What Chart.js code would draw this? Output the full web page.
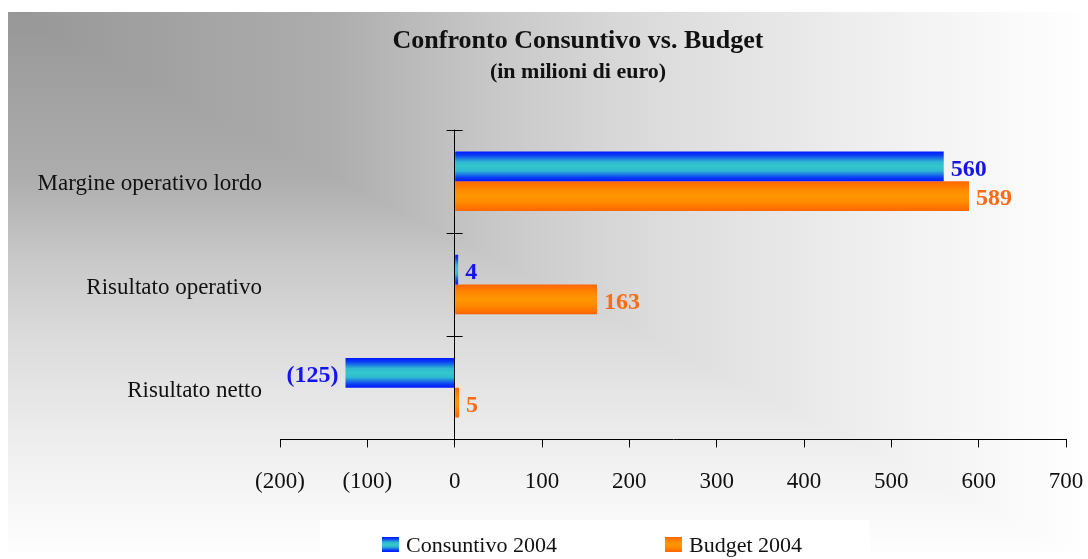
<!DOCTYPE html>
<html>
<head>
<meta charset="utf-8">
<script src="https://cdn.jsdelivr.net/npm/chart.js@4.4.0/dist/chart.umd.min.js"></script>
<style>
  html, body { margin: 0; padding: 0; background: #fff; }
  #wrap { width: 1088px; height: 559px; }
</style>
</head>
<body>
<div id="wrap"><canvas id="myChart"></canvas></div>
<script>
// dati (milioni di euro)
const categorie = ['Margine operativo lordo', 'Risultato operativo', 'Risultato netto'];
const serie = ['Consuntivo 2004', 'Budget 2004'];
const consuntivo = [560, 4, -125];
const budget = [589, 163, 5];
const asseMin = -200;
const asseMax = 700;
const assePasso = 100;

// colori sfumati delle barre (bordo -> centro -> bordo)
const sfumature = [
  [[0, '#0018ff'], [0.12, '#0a3cf5'], [0.35, '#2fb8d2'], [0.5, '#33c8cc'], [0.65, '#2fb8d2'], [0.88, '#0a3cf5'], [1, '#0018ff']],
  [[0, '#ff6600'], [0.3, '#ff8a00'], [0.5, '#ff9600'], [0.7, '#ff8a00'], [1, '#ff6600']]
];
const coloriEtichette = ['#1414f0', '#ff6a14'];

const fmt = v => v < 0 ? '(' + Math.abs(v) + ')' : String(v);
const FONT = "'Liberation Serif', 'Times New Roman', serif";

function gradV(ctx, top, bottom, stops) {
  const g = ctx.createLinearGradient(0, top, 0, bottom);
  stops.forEach(s => g.addColorStop(s[0], s[1]));
  return g;
}

// sfondo grigio sfumato "dall'angolo"
const sfondo = {
  id: 'sfondo',
  afterLayout(chart) {
    // titolo e sottotitolo centrati sulla zona etichette + grafico
    chart.boxes.forEach(b => {
      if (b.position === 'top' && b.options && b.options.text !== undefined) {
        b.left = 90;
        b.width = b.right - b.left;
      }
    });
  },
  beforeDraw(chart) {
    const c = chart.ctx, W = chart.width, H = chart.height;
    const x0 = 8, y0 = 12, w = W - x0, h = H - y0;
    const stops = [[0, '#979797'], [0.3, '#adadad'], [0.45, '#c8c8c8'], [0.6, '#dcdcdc'], [0.8, '#efefef'], [1, '#ffffff']];
    c.save();
    c.fillStyle = '#fff';
    c.fillRect(0, 0, W, H);
    let g = c.createLinearGradient(x0, 0, x0 + w, 0);
    stops.forEach(s => g.addColorStop(s[0], s[1]));
    c.fillStyle = g;
    c.fillRect(x0, y0, w, h);
    c.beginPath();
    c.moveTo(x0, y0); c.lineTo(x0, y0 + h); c.lineTo(x0 + w, y0 + h); c.closePath();
    c.clip();
    c.fillStyle = gradV(c, y0, y0 + h, stops);
    c.fillRect(x0, y0, w, h);
    c.restore();
  }
};

// sfumatura sulle barre, tacche asse categorie, etichette valori, legenda
const decorazioni = {
  id: 'decorazioni',
  beforeDatasetsDraw(chart) {
    const c = chart.ctx;
    chart.data.datasets.forEach((ds, di) => {
      chart.getDatasetMeta(di).data.forEach(el => {
        const p = el.getProps(['y', 'height'], true);
        el.options.backgroundColor = gradV(c, p.y - p.height / 2, p.y + p.height / 2, sfumature[di]);
      });
    });
  },
  afterDatasetsDraw(chart) {
    const c = chart.ctx, ys = chart.scales.y, xs = chart.scales.x;
    const x0 = xs.getPixelForValue(0);
    const band = (ys.bottom - ys.top) / categorie.length;
    c.save();
    c.strokeStyle = '#000';
    c.lineWidth = 1;
    for (let i = 0; i < categorie.length; i++) {
      const yy = Math.round(ys.getPixelForValue(i) - band / 2) + 0.5;
      c.beginPath();
      c.moveTo(x0 - 8, yy); c.lineTo(x0 + 8, yy);
      c.stroke();
    }
    c.font = 'bold 24px ' + FONT;
    c.textBaseline = 'middle';
    chart.data.datasets.forEach((ds, di) => {
      c.fillStyle = coloriEtichette[di];
      chart.getDatasetMeta(di).data.forEach((el, i) => {
        const v = ds.data[i];
        const p = el.getProps(['x', 'y'], true);
        if (v < 0) { c.textAlign = 'right'; c.fillText(fmt(v), p.x - 7, p.y + 3); }
        else { c.textAlign = 'left'; c.fillText(fmt(v), p.x + 7, p.y + 3); }
      });
    });
    c.restore();
  },
  afterDraw(chart) {
    const c = chart.ctx;
    c.save();
    c.fillStyle = '#fff';
    c.fillRect(320, 520, 550, chart.height - 520);
    c.font = '22px ' + FONT;
    c.textBaseline = 'middle';
    c.textAlign = 'left';
    const box = 17, gap = 7, spazio = 108;
    const larg = serie.map(s => box + gap + c.measureText(s).width);
    let x = 592 - (larg[0] + spazio + larg[1]) / 2;
    serie.forEach((s, i) => {
      c.fillStyle = gradV(c, 537, 552, sfumature[i]);
      c.fillRect(x, 537, box, 15);
      c.fillStyle = '#111';
      c.fillText(s, x + box + gap, 546);
      x += larg[i] + spazio;
    });
    c.restore();
  }
};

Chart.defaults.font.family = FONT;
Chart.defaults.color = '#111';

new Chart(document.getElementById('myChart'), {
  type: 'bar',
  data: {
    labels: categorie,
    datasets: [
      { label: serie[0], data: consuntivo, backgroundColor: () => '#33c8cc', borderWidth: 0 },
      { label: serie[1], data: budget, backgroundColor: () => '#ff9600', borderWidth: 0 }
    ]
  },
  options: {
    indexAxis: 'y',
    responsive: true,
    maintainAspectRatio: false,
    animation: false,
    datasets: { bar: { categoryPercentage: 0.575, barPercentage: 1 } },
    layout: { padding: { left: 0, right: 22, top: 0, bottom: 42 } },
    plugins: {
      legend: { display: false },
      tooltip: { enabled: false },
      title: {
        display: true,
        text: 'Confronto Consuntivo vs. Budget',
        color: '#111',
        font: { size: 26, weight: 'bold' },
        padding: { top: 26, bottom: 0 }
      },
      subtitle: {
        display: true,
        text: '(in milioni di euro)',
        color: '#111',
        font: { size: 22, weight: 'bold' },
        padding: { top: 2, bottom: 44 }
      }
    },
    scales: {
      x: {
        min: asseMin,
        max: asseMax,
        ticks: { stepSize: assePasso, callback: v => fmt(v), font: { size: 23 }, color: '#111', padding: 21 },
        grid: {
          color: ctx => (ctx.tick && ctx.tick.value === 0) ? '#000' : 'rgba(0,0,0,0)',
          tickColor: '#000',
          tickLength: 8,
          lineWidth: 1
        },
        border: { display: true, color: '#000', width: 1 },
        afterFit: s => { s.paddingLeft = 0; s.paddingRight = 0; }
      },
      y: {
        ticks: { font: { size: 23 }, color: '#111', padding: 10, labelOffset: 3 },
        grid: { display: false },
        border: { display: false },
        afterFit: s => { s.width = 280; }
      }
    }
  },
  plugins: [sfondo, decorazioni]
});
</script>
</body>
</html>
